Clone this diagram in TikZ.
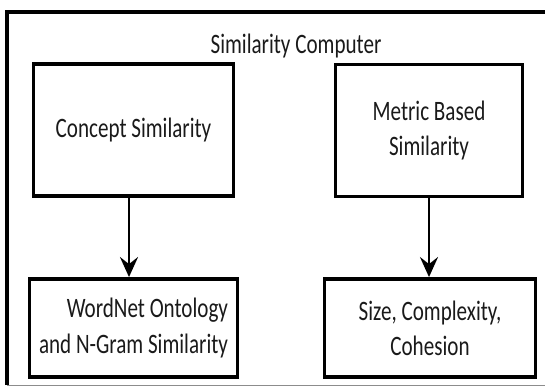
\documentclass[tikz,border=0pt]{standalone}
\usepackage{fontspec}
\setmainfont{Carlito}[FakeStretch=0.75]
\usepackage{tikz}
\usepackage{xcolor}
\usetikzlibrary{arrows.meta,positioning}
\definecolor{SimBlack}{HTML}{000000}
\definecolor{SimText}{HTML}{1A1A1A}
\definecolor{SimGrey}{HTML}{8C8C8C}
\tikzset{
    % Base box style
    simbox/.style={
        draw=SimBlack,
        fill=white,
        line width=5.5pt,
        align=center,
        text=SimText,
        font=\fontsize{40}{50}\selectfont
    },
    % Upper layer boxes
    upperbox/.style={
        simbox,
        minimum height=6.6cm
    },
    % Lower layer boxes
    lowerbox/.style={
        simbox,
        minimum height=4.9cm
    },
    % Title text
    titletext/.style={
        text=SimText,
        font=\fontsize{40}{50}\selectfont
    },
    % Arrow style
    simarrow/.style={
        -{Stealth[length=1cm, width=0.9cm, inset=0.35cm]},
        line width=4pt,
        draw=SimBlack
    }
}
\begin{document}
\begin{tikzpicture}[x=0.05cm, y=-0.05cm]
        \useasboundingbox (0,0) rectangle (545,387);

        % Outer frame
        \draw[SimBlack, line width=4.5pt] (7,385) -- (7,12) -- (545,12);
        \draw[SimGrey, line width=1.2pt] (7,385) -- (545,385);

        % Title
        \node[titletext] (title) at (296,46) {Similarity Computer};

        % Upper boxes
        \node[upperbox, minimum width=10cm] (concept) at (133.5,130) {Concept Similarity};
        \node[upperbox, minimum width=9.35cm] (metric) at (429,130.5) {Metric Based\\Similarity};

        % Lower boxes
        \node[lowerbox, minimum width=10.4cm, align=right] (wordnet) at (133.5,328) {WordNet Ontology\\and N-Gram Similarity};
        \node[lowerbox, minimum width=10.55cm] (size) at (430,328) {Size, Complexity,\\Cohesion};

        % Arrows
        \draw[simarrow] ([xshift=-0.225cm]concept.south) -- ([xshift=-0.225cm]concept.south |- wordnet.north);
        \draw[simarrow] (metric.south) -- (metric.south |- size.north);
\end{tikzpicture}
\end{document}
